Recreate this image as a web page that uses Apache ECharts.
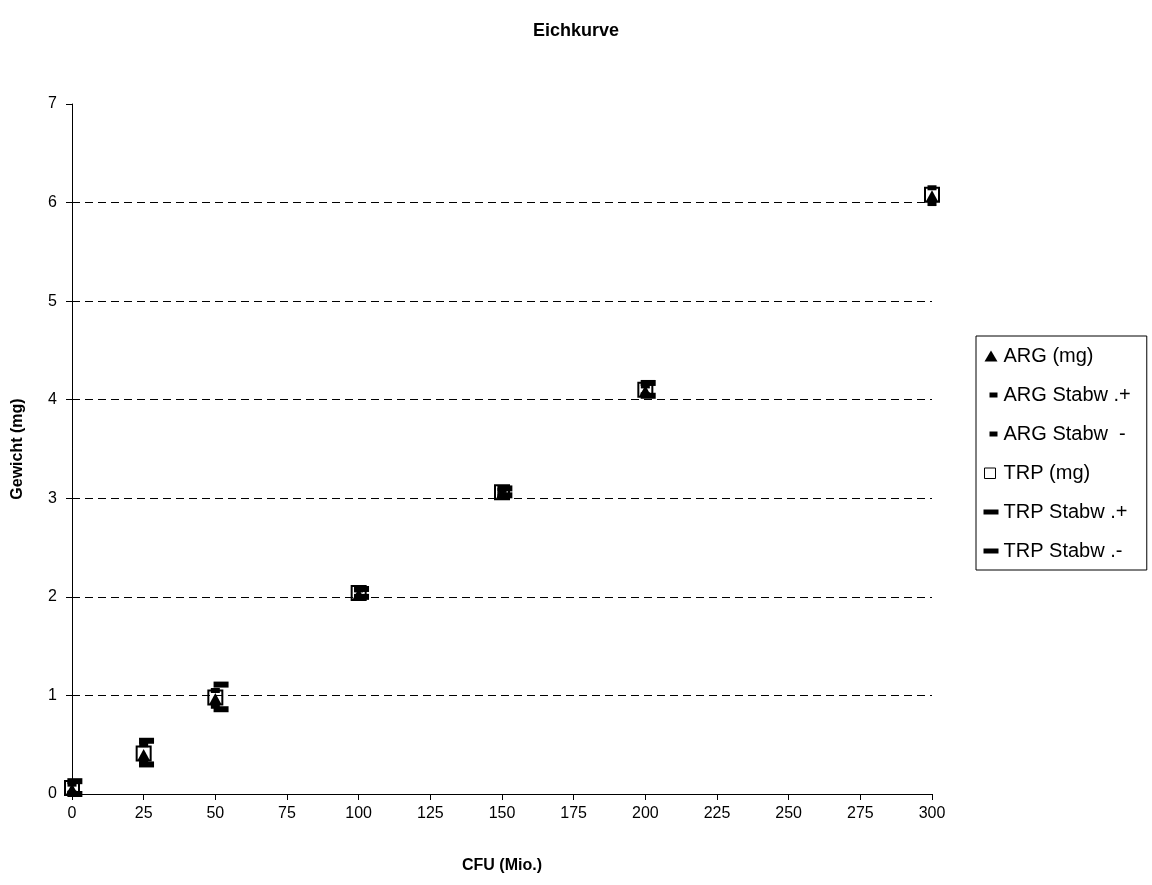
<!DOCTYPE html>
<html>
<head>
<meta charset="utf-8">
<script src="https://cdn.jsdelivr.net/npm/echarts@6/dist/echarts.min.js"></script>
<style>
html,body{margin:0;padding:0;background:#fff;}
#chart{width:1152px;height:885px;}
</style>
</head>
<body>
<div id="chart"></div>
<script>
// ---- data ----
var cfu      = [0, 25, 50, 100, 150, 200, 300];
var argMg    = [0.05, 0.40, 0.97, 2.03, 3.05, 4.09, 6.07];
var argPlus  = [0.10, 0.50, 1.05, 2.07, 3.08, 4.14, 6.15];
var argMinus = [0.01, 0.31, 0.89, 1.99, 3.02, 4.05, 5.99];
var trpMg    = [0.06, 0.41, 0.98, 2.04, 3.06, 4.10, 6.08];
var trpErrX  = [1, 26, 52, 101, 151, 201, 301];
var trpPlus  = [0.13, 0.54, 1.11, 2.08, 3.10, 4.17, 6.18];
var trpMinus = [0.00, 0.30, 0.86, 2.00, 3.03, 4.04, 5.99];
var gridVals = [1, 2, 3, 4, 5, 6];
var seriesNames = ['ARG (mg)', 'ARG Stabw .+', 'ARG Stabw  -', 'TRP (mg)', 'TRP Stabw .+', 'TRP Stabw .-'];

function pairs(xs, ys) { return ys.map(function (y, i) { return [xs[i], y]; }); }

var FONT = '"Liberation Sans", Arial, sans-serif';
var chart = echarts.init(document.getElementById('chart'), null, {renderer: 'canvas'});

var common = {type: 'scatter', silent: true, emphasis: {disabled: true}};
var black = {color: '#000', opacity: 1};

var option = {
  animation: false,
  backgroundColor: '#ffffff',
  title: {
    text: 'Eichkurve', left: 'center', top: 17,
    textStyle: {fontFamily: FONT, fontSize: 18, fontWeight: 'bold', color: '#000'}
  },
  grid: {left: 72, right: 220, top: 104, bottom: 91, containLabel: false},
  legend: {
    orient: 'vertical', left: 976, top: 336,
    padding: [10, 16, 9, 7],
    itemWidth: 15, itemHeight: 15, itemGap: 19,
    borderColor: '#000', borderWidth: 1, backgroundColor: '#fff',
    selectedMode: false,
    textStyle: {fontFamily: FONT, fontSize: 20, color: '#000', lineHeight: 20},
    data: [
      {name: seriesNames[0], icon: 'path://M0,0 M15,15 M1,13 L7.5,2 L14,13 Z', itemStyle: {color: '#000', borderWidth: 0}},
      {name: seriesNames[1], icon: 'path://M0,0 M15,15 M6,5 L14,5 L14,10 L6,10 Z', itemStyle: {color: '#000', borderWidth: 0}},
      {name: seriesNames[2], icon: 'path://M0,0 M15,15 M6,5 L14,5 L14,10 L6,10 Z', itemStyle: {color: '#000', borderWidth: 0}},
      {name: seriesNames[3], icon: 'path://M0,0 M15,15 M1,2.5 L12,2.5 L12,13 L1,13 Z', itemStyle: {color: '#fff', borderColor: '#000', borderWidth: 1}},
      {name: seriesNames[4], icon: 'path://M0,0 M15,15 M0,5 L15,5 L15,10 L0,10 Z', itemStyle: {color: '#000', borderWidth: 0}},
      {name: seriesNames[5], icon: 'path://M0,0 M15,15 M0,5 L15,5 L15,10 L0,10 Z', itemStyle: {color: '#000', borderWidth: 0}}
    ]
  },
  xAxis: {
    type: 'value', min: 0, max: 300, interval: 25,
    name: 'CFU (Mio.)', nameLocation: 'middle', nameGap: 64,
    nameTextStyle: {fontFamily: FONT, fontSize: 16, fontWeight: 'bold', color: '#000'},
    axisLine: {show: true, onZero: false, lineStyle: {color: '#000', width: 1}},
    axisTick: {show: true, inside: false, length: 6, lineStyle: {color: '#000'}},
    axisLabel: {fontFamily: FONT, fontSize: 16, color: '#000', margin: 12},
    splitLine: {show: false}
  },
  yAxis: {
    type: 'value', min: 0, max: 7, interval: 1,
    name: 'Gewicht (mg)', nameLocation: 'middle', nameGap: 46,
    nameTextStyle: {fontFamily: FONT, fontSize: 16, fontWeight: 'bold', color: '#000'},
    axisLine: {show: true, onZero: false, lineStyle: {color: '#000', width: 1}},
    axisTick: {show: true, inside: false, length: 6, lineStyle: {color: '#000'}},
    axisLabel: {fontFamily: FONT, fontSize: 16, color: '#000', margin: 15},
    splitLine: {show: false}
  },
  series: [
    Object.assign({}, common, {
      name: seriesNames[0], z: 5, data: pairs(cfu, argMg),
      symbol: 'triangle', symbolSize: [12, 11],
      itemStyle: black,
      markLine: {
        silent: true, symbol: ['none', 'none'], label: {show: false},
        lineStyle: {color: '#000', type: [8, 5], width: 1},
        emphasis: {disabled: true},
        data: gridVals.map(function (v) { return {yAxis: v}; })
      }
    }),
    Object.assign({}, common, {
      name: seriesNames[1], z: 4, data: pairs(cfu, argPlus),
      symbol: 'rect', symbolSize: [9, 5], itemStyle: black
    }),
    Object.assign({}, common, {
      name: seriesNames[2], z: 4, data: pairs(cfu, argMinus),
      symbol: 'rect', symbolSize: [9, 5], itemStyle: black
    }),
    Object.assign({}, common, {
      name: seriesNames[3], z: 3, data: pairs(cfu, trpMg),
      symbol: 'rect', symbolSize: 14,
      itemStyle: {color: '#fff', borderColor: '#000', borderWidth: 2, opacity: 1}
    }),
    Object.assign({}, common, {
      name: seriesNames[4], z: 4, data: pairs(trpErrX, trpPlus),
      symbol: 'rect', symbolSize: [15, 6], itemStyle: black
    }),
    Object.assign({}, common, {
      name: seriesNames[5], z: 4, data: pairs(trpErrX, trpMinus),
      symbol: 'rect', symbolSize: [15, 6], itemStyle: black
    })
  ]
};
chart.setOption(option);
</script>
</body>
</html>
